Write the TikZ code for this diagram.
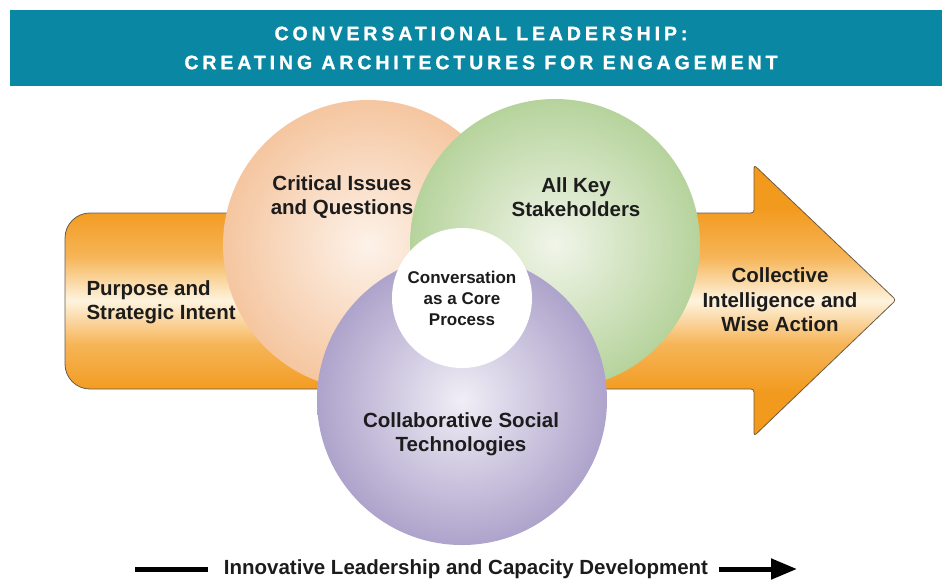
\documentclass[tikz,border=0pt]{standalone}
\usepackage{fontspec}
\setmainfont{Liberation Sans}
\newfontfamily\bannerfont[LetterSpace=20, FakeBold=1.2]{Liberation Sans Bold}
\usetikzlibrary{arrows.meta}

\definecolor{banner}{HTML}{0A87A2}
\definecolor{ink}{HTML}{1C1C1C}
\definecolor{arrowdark}{HTML}{F29A1E}
\definecolor{arrowmid}{HTML}{F6B558}
\definecolor{arrowlight}{HTML}{FEF3DF}
\definecolor{arrowline}{HTML}{6B5A45}
\definecolor{peachin}{HTML}{FDF2E9}
\definecolor{peachout}{HTML}{F5C6A0}
\definecolor{greenin}{HTML}{F1F5E9}
\definecolor{greenout}{HTML}{B6D39C}
\definecolor{lilacin}{HTML}{F0EEF6}
\definecolor{lilacout}{HTML}{AEA3CB}

\pgfdeclareverticalshading{arrowfill}{100bp}{color(0bp)=(arrowdark); color(33bp)=(arrowdark); color(42bp)=(arrowmid); color(50bp)=(arrowlight); color(58bp)=(arrowmid); color(67bp)=(arrowdark); color(100bp)=(arrowdark)}

\begin{document}
\begin{tikzpicture}[line cap=round, x=1pt, y=-1pt,
    lbl/.style={font=\bfseries\fontsize{20.5}{24}\selectfont, align=center, text=ink},
    small/.style={font=\bfseries\fontsize{17}{21}\selectfont, align=center, text=ink}]
    % conversational leadership: three circles on one big arrow
    \def\R{145pt}
    \def\r{70pt}
    \coordinate (issues) at (368,245);
    \coordinate (keys) at (555,244);
    \coordinate (tech) at (462,400);
    \coordinate (hub) at (462,298);
    \coordinate (lstart) at (135,569);
    \coordinate (lend) at (797,569);

    \useasboundingbox (0,0) rectangle (942,582);
    \fill[banner] (10,10) rectangle (942,86);
    \node[font=\bannerfont\fontsize{19.5}{29}\selectfont, text=white, align=center]
        (title) at (481,48) {CONVERSATIONAL LEADERSHIP:\\CREATING ARCHITECTURES FOR ENGAGEMENT};

    \shadedraw[shading=arrowfill, draw=arrowline, line width=0.8pt, rounded corners=3pt]
        (400,213) -- (754,213) -- (754,165) -- (896,300) -- (754,436) -- (754,389) -- (400,389)
        [rounded corners=25pt] -- (65,389) -- (65,213) -- cycle;

    \shade[inner color=peachin, outer color=peachout] (issues) circle (\R);
    \shade[inner color=greenin, outer color=greenout] (keys) circle (\R);
    \shade[inner color=lilacin, outer color=lilacout] (tech) circle (\R);
    \fill[white] (hub) circle (\r);

    \node[lbl] (crit) at (342,197) {Critical Issues\\and Questions};
    \node[lbl] (stake) at (576,197) {All Key\\Stakeholders};
    \node[lbl, align=left, anchor=west] (purpose) at (83,302) {Purpose and\\Strategic Intent};
    \node[small] (core) at (hub) {Conversation\\as a Core\\Process};
    \node[lbl, font=\bfseries\fontsize{20.5}{24.5}\selectfont] (collect) at (780,300) {Collective\\Intelligence and\\Wise Action};
    \node[lbl] (collab) at (461,434) {Collaborative Social\\Technologies};
    \node[lbl] (dev) at (466,569) {Innovative Leadership and Capacity Development};

    \draw[line width=5pt, line cap=butt] (lstart) -- ([xshift=-12pt]dev.west);
    \draw[line width=5pt, line cap=butt, -{Triangle[length=26pt, width=20pt]}] ([xshift=7pt]dev.east) -- (lend);
\end{tikzpicture}
\end{document}
